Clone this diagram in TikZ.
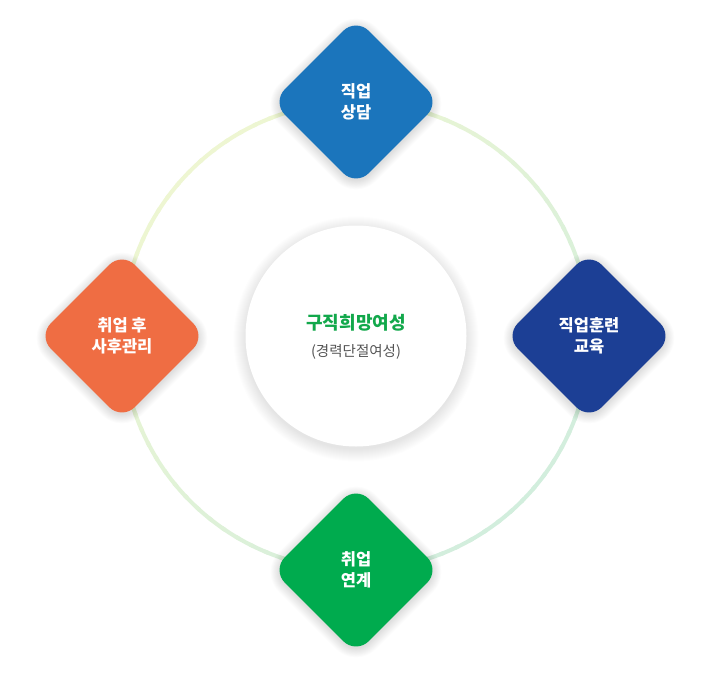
\documentclass[tikz,border=0pt]{standalone}
\usepackage{fontspec}
\setmainfont{Noto Sans CJK KR}
\usetikzlibrary{shapes.geometric}
\definecolor{ringA}{HTML}{EEF6D2}
\definecolor{ringB}{HTML}{D2EEDD}
\definecolor{cBlue}{HTML}{1B75BC}
\definecolor{cNavy}{HTML}{1C3F95}
\definecolor{cOrange}{HTML}{EF6D43}
\definecolor{cGreen}{HTML}{00AB4E}
\definecolor{titleGreen}{HTML}{12A84B}
\definecolor{subGray}{HTML}{555555}
\begin{document}
\begin{tikzpicture}[x=1pt,y=-1pt,
  dia/.style={diamond, minimum width=168pt, minimum height=168pt, inner sep=0pt,
    rounded corners=18pt, text=white, align=center,
    font=\bfseries\fontsize{16.5}{21.5}\selectfont},
  hub/.style={circle, minimum size=221pt, inner sep=0pt, fill=white},
  shade layer/.style={fill=black, opacity=0.01}
]
\useasboundingbox (0,0) rectangle (711,677);
\fill[white] (0,0) rectangle (711,677);
\coordinate (ctr) at (356,336);
\foreach \a in {0,4,...,356}{
  \pgfmathtruncatemacro\t{50*(1+(cos(\a)+sin(\a))/sqrt(2))}
  \draw[line width=4pt, ringB!\t!ringA] (ctr) ++(\a:234) arc[start angle=\a, end angle=\a+5, radius=234];
}
% soft shadow of the hub
\foreach \k in {0,...,12}{
  \fill[shade layer, opacity=0.009] (356,339) circle[radius=110.5+\k];
}
% soft shadows of the diamonds
\foreach \cx/\cy in {356/102, 589/336, 356/570, 122/336}{
  \foreach \k in {0,...,10}{
    \pgfmathsetmacro\h{84+1.3*\k}
    \fill[shade layer, rounded corners=18+\k] (\cx,\cy+2-\h) -- (\cx+\h,\cy+2) -- (\cx,\cy+2+\h) -- (\cx-\h,\cy+2) -- cycle;
  }
}
\node[hub] (center) at (ctr) {};
\node[text=titleGreen, font=\bfseries\fontsize{18}{22}\selectfont] (title) at (356,323) {구직희망여성};
\node[text=subGray, font=\fontsize{14.5}{18}\selectfont] (sub) at (356,352) {(경력단절여성)};
\node[dia, fill=cBlue] (top) at (356,102) {직업\\상담};
\node[dia, fill=cNavy] (right) at (589,336) {직업훈련\\교육};
\node[dia, fill=cGreen] (bottom) at (356,570) {취업\\연계};
\node[dia, fill=cOrange] (left) at (122,336) {취업 후\\사후관리};
\end{tikzpicture}
\end{document}
